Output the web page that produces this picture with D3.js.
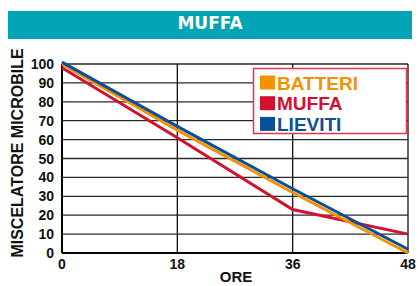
<!DOCTYPE html>
<html>
<head>
<meta charset="utf-8">
<script src="https://cdn.jsdelivr.net/npm/d3@7"></script>
<style>
  body { margin: 0; background: #fff; }
  #cntr { width: 418px; height: 286px; }
  text { font-family: "Liberation Sans", Arial, sans-serif; font-weight: bold; }
</style>
</head>
<body>
<div id="cntr"></div>
<script>
const width = 418, height = 286;

// data
const ore = ["0", "18", "36", "48"];
const batteri = [100, 65, 32, 0];
const muffa = [98, 61, 23, 10];
const lieviti = [101, 67, 34, 2];
const yTicks = [0, 10, 20, 30, 40, 50, 60, 70, 80, 90, 100];

const series = [
    { name: "MUFFA", values: muffa, color: "#d2112f" },
    { name: "BATTERI", values: batteri, color: "#f39200" },
    { name: "LIEVITI", values: lieviti, color: "#0a4f9c" }
];
const legendOrder = ["BATTERI", "MUFFA", "LIEVITI"];

const svg = d3.select("#cntr")
    .append("svg")
    .attr("width", width)
    .attr("height", height);

// header band
svg.append("rect")
    .attr("x", 8).attr("y", 11)
    .attr("width", 404).attr("height", 28)
    .attr("fill", "#00a5b5");
svg.append("text")
    .attr("x", 210).attr("y", 28.5)
    .attr("text-anchor", "middle")
    .style("font-family", "'DejaVu Sans', sans-serif")
    .style("font-size", "17px")
    .attr("fill", "#fff")
    .text("MUFFA");

const x = d3.scalePoint().domain(ore).range([62, 408]);
const y = d3.scaleLinear().domain([0, 100]).range([253, 64]);

// grid
svg.append("g")
    .selectAll("line")
    .data(yTicks)
    .join("line")
        .attr("x1", 62).attr("x2", 408)
        .attr("y1", d => y(d)).attr("y2", d => y(d))
        .attr("stroke", "#2a2a2a")
        .attr("stroke-width", 1.3);
svg.append("g")
    .selectAll("line")
    .data(ore)
    .join("line")
        .attr("x1", d => x(d)).attr("x2", d => x(d))
        .attr("y1", y(0)).attr("y2", y(100))
        .attr("stroke", "#111")
        .attr("stroke-width", 1.3);

// axes frame
svg.append("line")
    .attr("x1", 62).attr("x2", 62).attr("y1", y(0)).attr("y2", y(100))
    .attr("stroke", "#000").attr("stroke-width", 2);
svg.append("line")
    .attr("x1", 62).attr("x2", 408).attr("y1", y(0)).attr("y2", y(0))
    .attr("stroke", "#000").attr("stroke-width", 2);

// tick labels
svg.append("g")
    .selectAll("text")
    .data(yTicks)
    .join("text")
        .attr("x", 54)
        .attr("y", d => y(d) + 5)
        .attr("text-anchor", "end")
        .style("font-size", "14px")
        .attr("fill", "#111")
        .text(d => d);
svg.append("g")
    .selectAll("text")
    .data(ore)
    .join("text")
        .attr("x", d => x(d))
        .attr("y", 268.5)
        .attr("text-anchor", "middle")
        .style("font-size", "14px")
        .attr("fill", "#111")
        .text(d => d);

// axis titles
svg.append("text")
    .attr("transform", "translate(23, 153) rotate(-90)")
    .attr("text-anchor", "middle")
    .style("font-size", "16px")
    .attr("fill", "#111")
    .text("MISCELATORE MICROBILE");
svg.append("text")
    .attr("x", 236).attr("y", 282)
    .attr("text-anchor", "middle")
    .style("font-size", "15px")
    .attr("fill", "#111")
    .text("ORE");

// lines
const line = d3.line()
    .x((d, i) => x(ore[i]))
    .y(d => y(d));

svg.append("g")
    .selectAll("path")
    .data(series)
    .join("path")
        .attr("d", d => line(d.values))
        .attr("fill", "none")
        .attr("stroke", d => d.color)
        .attr("stroke-width", 3);

// legend
const legend = svg.append("g");
legend.append("rect")
    .attr("x", 253.5).attr("y", 68.5)
    .attr("width", 153).attr("height", 65)
    .attr("fill", "#fff")
    .attr("stroke", "#e0364e")
    .attr("stroke-width", 1.5);

const item = legend.selectAll("g.item")
    .data(legendOrder.map(n => series.find(s => s.name === n)))
    .join("g")
        .attr("class", "item")
        .attr("transform", (d, i) => "translate(260," + (89.5 + i * 20.7) + ")");
item.append("rect")
    .attr("x", 0).attr("y", -14)
    .attr("width", 15).attr("height", 14)
    .attr("fill", d => d.color);
item.append("text")
    .attr("x", 17).attr("y", 0)
    .style("font-size", "19px")
    .attr("fill", d => d.color)
    .text(d => d.name);
</script>
</body>
</html>
